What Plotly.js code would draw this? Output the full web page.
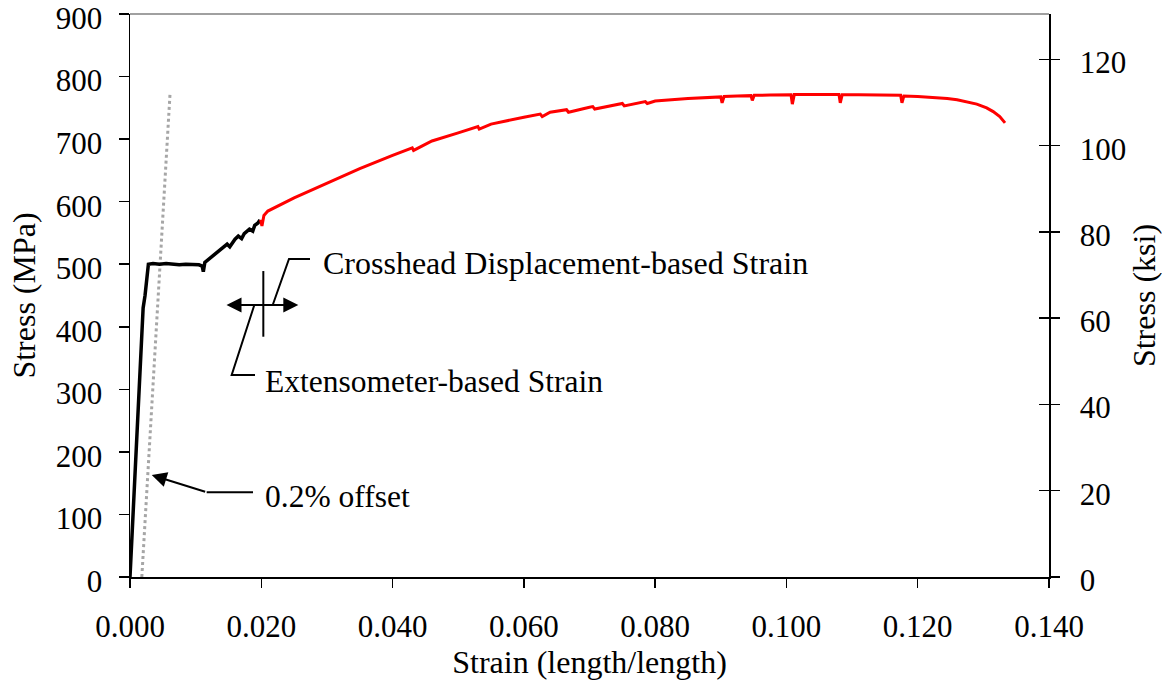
<!DOCTYPE html>
<html>
<head>
<meta charset="utf-8">
<script src="https://cdn.plot.ly/plotly-3.0.1.min.js"></script>
<style>html,body{margin:0;padding:0;background:#fff;}#chart{width:1162px;height:687px;}</style>
</head>
<body>
<div id="chart"></div>
<script>
// Extensometer-based strain (black)
const extStrain = [0, 0.0002, 0.0005, 0.0007, 0.00091, 0.0012, 0.00142, 0.0016, 0.00177, 0.0020, 0.00229, 0.0026, 0.0028, 0.0035, 0.0045, 0.0055, 0.0065, 0.0075, 0.0085, 0.0095, 0.0105, 0.0110, 0.01117, 0.0114, 0.0120, 0.0128, 0.0137, 0.0142, 0.0148, 0.0152, 0.0157, 0.0160, 0.0165, 0.0170, 0.0174, 0.0178, 0.0182, 0.0187, 0.0190, 0.0195, 0.0198];
const extStress = [0, 45, 100, 150, 200, 250, 300, 350, 400, 430, 450, 480, 500, 501, 500, 501, 500, 499, 500, 500, 499, 497, 488, 503, 508, 515, 523, 528, 532, 528, 536, 540, 545, 541, 549, 552, 556, 553, 562, 566, 571];

// Crosshead displacement-based strain (red)
const xhStrain = [0.0199, 0.0201, 0.0204, 0.0210, 0.0250, 0.0300, 0.0350, 0.0400, 0.0430, 0.0432, 0.0460, 0.0500, 0.0530, 0.0532, 0.0550, 0.0600, 0.0625, 0.0628, 0.0640, 0.0665, 0.0668, 0.0700, 0.0705, 0.0708, 0.0750, 0.0753, 0.0785, 0.0788, 0.0800, 0.0850, 0.0900, 0.0902, 0.0905, 0.0925, 0.0946, 0.0948, 0.0951, 0.0975, 0.0990, 0.1007, 0.1009, 0.1012, 0.1035, 0.1055, 0.1080, 0.1082, 0.1085, 0.1110, 0.1140, 0.1174, 0.1176, 0.1179, 0.1200, 0.1225, 0.1245, 0.1260, 0.1275, 0.1290, 0.1305, 0.1315, 0.1325, 0.1333];
const xhStress = [571, 561, 578, 585, 606, 630, 653, 674, 686, 682, 697, 710, 720, 716, 724, 735, 740, 736, 743, 747, 743, 751, 752, 748, 757, 753, 760, 757, 761, 765, 767.5, 758, 768, 769, 769.5, 762, 770, 770.5, 771, 771, 756, 771.5, 771.5, 771.5, 771.5, 758, 771, 771, 770, 770, 758, 769, 768, 767, 765, 763, 760, 756, 750, 744, 736, 726];

// 0.2% offset line (gray dotted)
const offStrain = [0.0018, 0.0061];
const offStress = [0, 773];

// Axis ticks
const xTicks = [0, 0.02, 0.04, 0.06, 0.08, 0.10, 0.12, 0.14];
const yTicks = [0, 100, 200, 300, 400, 500, 600, 700, 800, 900];
const ksiTicks = [0, 20, 40, 60, 80, 100, 120];
const MPA_PER_KSI = 6.894757;

const FONT = 'Liberation Serif, Times New Roman, serif';
const FS = 31;
const TFS = 32;

const ksiStress = xhStress.map(v => v / MPA_PER_KSI);

const traces = [
  {x: offStrain, y: offStress, mode: 'lines', line: {color: '#a6a6a6', width: 3, dash: '3px,3px'}, hoverinfo: 'skip', showlegend: false},
  {x: extStrain, y: extStress, mode: 'lines', line: {color: '#000000', width: 3.5}, hoverinfo: 'skip', showlegend: false},
  {x: xhStrain, y: xhStress, mode: 'lines', line: {color: '#ff0000', width: 3}, hoverinfo: 'skip', showlegend: false},
  {x: xhStrain, y: ksiStress, yaxis: 'y2', mode: 'lines', opacity: 0, line: {color: '#ff0000', width: 0}, hoverinfo: 'skip', showlegend: false},
  {x: xhStrain, y: ksiStress, yaxis: 'y3', mode: 'lines', opacity: 0, line: {color: '#ff0000', width: 0}, hoverinfo: 'skip', showlegend: false}
];

const layout = {
  width: 1162, height: 687,
  margin: {l: 130, r: 113, t: 14, b: 110},
  paper_bgcolor: '#ffffff', plot_bgcolor: '#ffffff',
  font: {family: FONT, size: FS, color: '#000'},
  showlegend: false,
  xaxis: {
    range: [0, 0.14], tickvals: xTicks, tickformat: '.3f',
    ticks: 'outside', ticklen: 9, tickwidth: 1.5, tickcolor: '#000',
    showline: true, linecolor: '#000', linewidth: 1.5, showgrid: false, zeroline: false,
    tickfont: {family: FONT, size: FS}, ticklabelstandoff: 12, ticklabeloverflow: 'allow',
    title: {text: 'Strain (length/length)', font: {family: FONT, size: TFS}, standoff: 8}
  },
  yaxis: {
    range: [0, 900], tickvals: yTicks,
    ticks: 'outside', ticklen: 10, tickwidth: 1.5, tickcolor: '#000',
    showline: true, linecolor: '#000', linewidth: 1.5, showgrid: false, zeroline: false,
    tickfont: {family: FONT, size: FS}, ticklabelstandoff: 10, ticklabelshift: 4, ticklabeloverflow: 'allow',
    title: {text: 'Stress (MPa)', font: {family: FONT, size: TFS}, standoff: 10}
  },
  yaxis2: {
    overlaying: 'y', side: 'right', anchor: 'x',
    range: [0, 900 / MPA_PER_KSI], tickvals: ksiTicks,
    ticks: 'outside', ticklen: 9, tickwidth: 1.5, tickcolor: '#000',
    showline: true, linecolor: '#000', linewidth: 1.5, showgrid: false, zeroline: false,
    tickfont: {family: FONT, size: FS}, ticklabelstandoff: 14, ticklabelshift: 3, ticklabeloverflow: 'allow',
    title: {text: 'Stress (ksi)', font: {family: FONT, size: TFS}, standoff: 12}
  },
  yaxis3: {
    overlaying: 'y', side: 'right', anchor: 'x',
    range: [0, 900 / MPA_PER_KSI], tickvals: ksiTicks,
    ticks: 'inside', ticklen: 10, tickwidth: 1.5, tickcolor: '#000',
    showticklabels: false, showline: false, showgrid: false, zeroline: false
  },
  shapes: [
    {type: 'line', xref: 'paper', yref: 'paper', x0: 0, x1: 1, y0: 1, y1: 1, line: {color: '#808080', width: 1.5}},
    {type: 'path', xref: 'x', yref: 'y', path: 'M0.02742,508.3 L0.02422,508.3 L0.02174,434.8', line: {color: '#000', width: 2}},
    {type: 'line', xref: 'x', yref: 'y', x0: 0.02031, x1: 0.02031, y0: 384.1, y1: 489.1, line: {color: '#000', width: 2}},
    {type: 'path', xref: 'x', yref: 'y', path: 'M0.01894,434.8 L0.01549,322.9 L0.01904,322.9', line: {color: '#000', width: 2}},
    {type: 'line', xref: 'x', yref: 'y', x0: 0.01168, x1: 0.01874, y0: 135.4, y1: 135.4, line: {color: '#000', width: 2}}
  ],
  annotations: [
    {text: 'Crosshead Displacement-based Strain', x: 0.0291, y: 502, xref: 'x', yref: 'y', xanchor: 'left', yanchor: 'middle', showarrow: false, font: {family: FONT, size: 32}},
    {text: 'Extensometer-based Strain', x: 0.0203, y: 313, xref: 'x', yref: 'y', xanchor: 'left', yanchor: 'middle', showarrow: false, font: {family: FONT, size: 31.5}},
    {text: '0.2% offset', x: 0.0203, y: 128, xref: 'x', yref: 'y', xanchor: 'left', yanchor: 'middle', showarrow: false, font: {family: FONT, size: 31.5}},
    {text: '', x: 0.00331, y: 163, xref: 'x', yref: 'y', ax: 0.01168, ay: 135.4, axref: 'x', ayref: 'y', showarrow: true, arrowhead: 2, arrowsize: 1.5, arrowwidth: 2, arrowcolor: '#000'},
    {text: '', x: 0.02564, y: 434.8, xref: 'x', yref: 'y', ax: 0.01447, ay: 434.8, axref: 'x', ayref: 'y', showarrow: true, arrowhead: 2, arrowside: 'end+start', arrowsize: 1.5, arrowwidth: 2, arrowcolor: '#000'}
  ]
};

Plotly.newPlot('chart', traces, layout, {staticPlot: true, displayModeBar: false});
</script>
</body>
</html>
